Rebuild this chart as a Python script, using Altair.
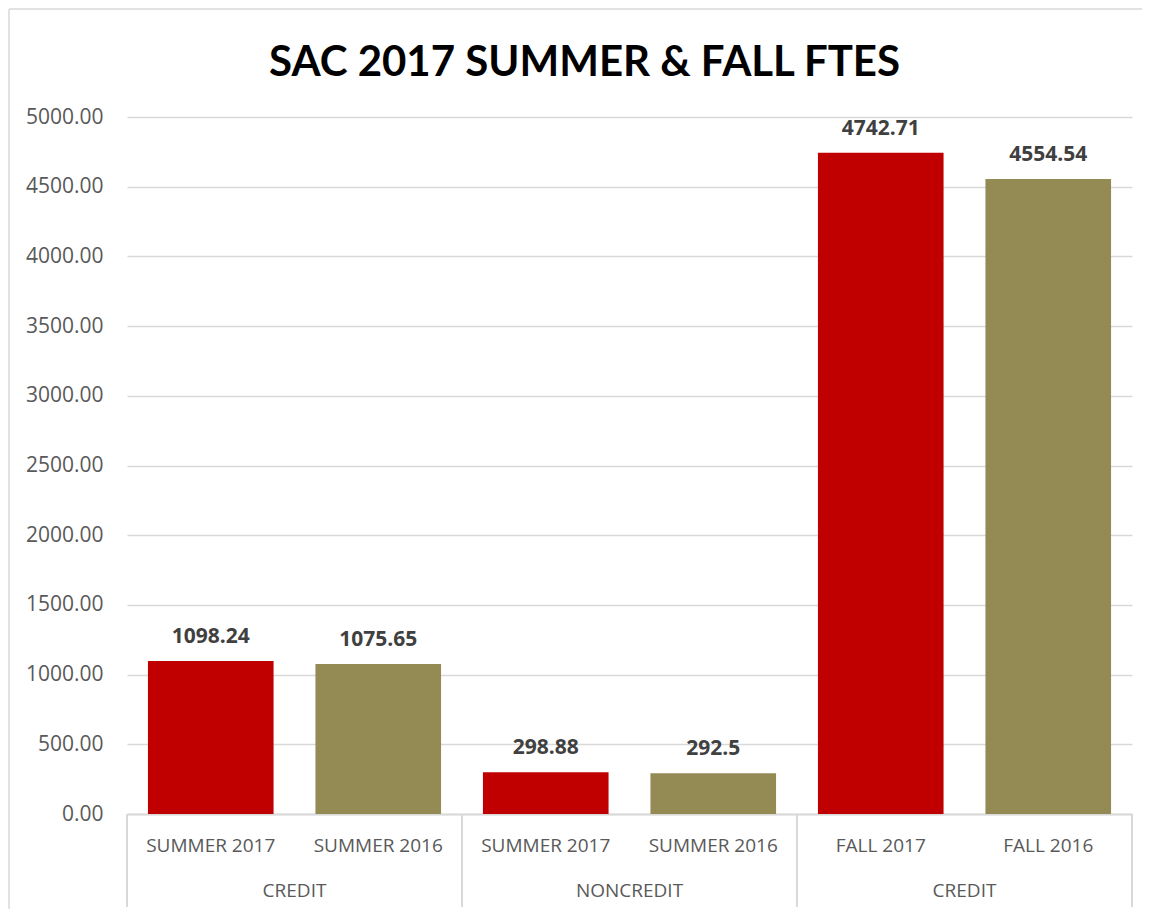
import altair as alt
import pandas as pd

# ---- data ----
categories = ["SUMMER 2017", "SUMMER 2016", "SUMMER 2017", "SUMMER 2016", "FALL 2017", "FALL 2016"]
groups = ["CREDIT", "CREDIT", "NONCREDIT", "NONCREDIT", "CREDIT", "CREDIT"]
years = ["2017", "2016", "2017", "2016", "2017", "2016"]
values = [1098.24, 1075.65, 298.88, 292.5, 4742.71, 4554.54]
value_labels = ["1098.24", "1075.65", "298.88", "292.5", "4742.71", "4554.54"]
y_ticks = [0, 500, 1000, 1500, 2000, 2500, 3000, 3500, 4000, 4500, 5000]
year_domain = ["2017", "2016"]
year_colors = ["#C00000", "#948A54"]
title_text = "SAC 2017 SUMMER & FALL FTES"

n = len(categories)
df = pd.DataFrame({
    "idx": list(range(n)),
    "category": categories,
    "group": groups,
    "year": years,
    "value": values,
    "label": value_labels,
})
# first item of each group (for group labels / separators)
df["group_start"] = [i == 0 or groups[i] != groups[i - 1] for i in range(n)]
df["is_last"] = [i == n - 1 for i in range(n)]

W, H = 1005, 697
label_expr = "[" + ",".join("'" + c + "'" for c in categories) + "][datum.value]"

x_scale = alt.Scale(paddingInner=0, paddingOuter=0)
y_scale = alt.Scale(domain=[0, 5000], nice=False)

base = alt.Chart(df)

bars = base.mark_bar(width=alt.RelativeBandSize(0.75)).encode(
    x=alt.X("idx:O", scale=x_scale, sort=None,
            axis=alt.Axis(title=None, labelExpr=label_expr, labelAngle=0, ticks=False,
                          domainColor="#d9d9d9", domainWidth=2,
                          labelFont="Open Sans", labelFontSize=19, labelColor="#595959",
                          labelBaseline="alphabetic", labelPadding=37)),
    y=alt.Y("value:Q", scale=y_scale,
            axis=alt.Axis(title=None, values=y_ticks, format=".2f", grid=True,
                          gridColor="#d9d9d9", gridWidth=1.5, ticks=False, domain=False,
                          labelFont="Open Sans", labelFontSize=21, labelColor="#595959",
                          labelPadding=24)),
    color=alt.Color("year:N", scale=alt.Scale(domain=year_domain, range=year_colors), legend=None),
)

value_text = base.mark_text(font="Open Sans", fontSize=21, fontWeight="bold", color="#404040",
                            baseline="alphabetic", dy=-18).encode(
    x=alt.X("idx:O", scale=x_scale, sort=None),
    y=alt.Y("value:Q", scale=y_scale),
    text="label:N",
)

sep_start = base.transform_filter("datum.group_start").mark_rule(color="#d9d9d9", strokeWidth=2).encode(
    x=alt.X("idx:O", scale=x_scale, sort=None, bandPosition=0),
    y=alt.value(H),
    y2=alt.value(790),
)
sep_end = base.transform_filter("datum.is_last").mark_rule(color="#d9d9d9", strokeWidth=2).encode(
    x=alt.X("idx:O", scale=x_scale, sort=None, bandPosition=1),
    y=alt.value(H),
    y2=alt.value(790),
)
group_text = base.transform_filter("datum.group_start").mark_text(
    font="Open Sans", fontSize=19, color="#595959", baseline="alphabetic").encode(
    x=alt.X("idx:O", scale=x_scale, sort=None, bandPosition=1),
    y=alt.value(780),
    text="group:N",
)

border_df = pd.DataFrame({"k": [0]})
border_top = alt.Chart(border_df).mark_rule(color="#d9d9d9", strokeWidth=1.5).encode(
    x=alt.value(-118), x2=alt.value(1015), y=alt.value(-108))
border_left = alt.Chart(border_df).mark_rule(color="#d9d9d9", strokeWidth=1.5).encode(
    x=alt.value(-118), y=alt.value(-108), y2=alt.value(792))

chart = alt.layer(bars, value_text, sep_start, sep_end, group_text, border_top, border_left).properties(
    width=W, height=H,
    title=alt.TitleParams(title_text, font="Lato", fontSize=42, fontWeight="bold",
                          color="black", anchor="middle", dx=-45, offset=0, dy=110,
                          baseline="alphabetic"),
    padding={"left": 119, "top": 109, "right": 10, "bottom": 95},
    autosize=alt.AutoSizeParams(type="none"),
    background="white",
).configure_view(stroke=None)

chart.save("out.html", embed_options={"renderer": "svg", "actions": False})
